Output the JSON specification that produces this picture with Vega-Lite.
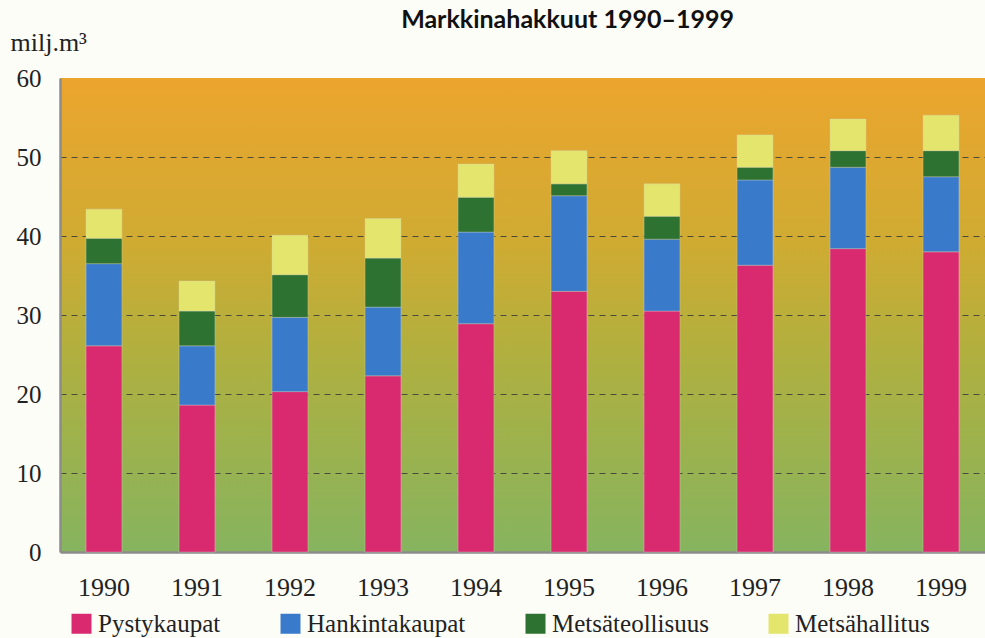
{
  "$schema": "https://vega.github.io/schema/vega-lite/v6.json",
  "autosize": {"type": "none"},
  "width": 925,
  "height": 474,
  "padding": {"left": 60, "top": 78, "right": 0, "bottom": 86},
  "background": "#fdfdf8",
  "title": {
    "text": "Markkinahakkuut 1990–1999",
    "font": "Lato",
    "fontWeight": "bold",
    "fontSize": 25,
    "color": "#111111",
    "anchor": "middle",
    "frame": "group",
    "dx": 45,
    "offset": 0,
    "dy": 4
  },
  "data": {
    "values": [
      {"year": "1990", "s": "Pystykaupat", "o": 1, "v": 26.1},
      {"year": "1990", "s": "Hankintakaupat", "o": 2, "v": 10.4},
      {"year": "1990", "s": "Metsäteollisuus", "o": 3, "v": 3.2},
      {"year": "1990", "s": "Metsähallitus", "o": 4, "v": 3.7},
      {"year": "1991", "s": "Pystykaupat", "o": 1, "v": 18.6},
      {"year": "1991", "s": "Hankintakaupat", "o": 2, "v": 7.5},
      {"year": "1991", "s": "Metsäteollisuus", "o": 3, "v": 4.4},
      {"year": "1991", "s": "Metsähallitus", "o": 4, "v": 3.8},
      {"year": "1992", "s": "Pystykaupat", "o": 1, "v": 20.3},
      {"year": "1992", "s": "Hankintakaupat", "o": 2, "v": 9.4},
      {"year": "1992", "s": "Metsäteollisuus", "o": 3, "v": 5.4},
      {"year": "1992", "s": "Metsähallitus", "o": 4, "v": 5.0},
      {"year": "1993", "s": "Pystykaupat", "o": 1, "v": 22.3},
      {"year": "1993", "s": "Hankintakaupat", "o": 2, "v": 8.7},
      {"year": "1993", "s": "Metsäteollisuus", "o": 3, "v": 6.2},
      {"year": "1993", "s": "Metsähallitus", "o": 4, "v": 5.0},
      {"year": "1994", "s": "Pystykaupat", "o": 1, "v": 28.9},
      {"year": "1994", "s": "Hankintakaupat", "o": 2, "v": 11.6},
      {"year": "1994", "s": "Metsäteollisuus", "o": 3, "v": 4.4},
      {"year": "1994", "s": "Metsähallitus", "o": 4, "v": 4.2},
      {"year": "1995", "s": "Pystykaupat", "o": 1, "v": 33.0},
      {"year": "1995", "s": "Hankintakaupat", "o": 2, "v": 12.1},
      {"year": "1995", "s": "Metsäteollisuus", "o": 3, "v": 1.5},
      {"year": "1995", "s": "Metsähallitus", "o": 4, "v": 4.2},
      {"year": "1996", "s": "Pystykaupat", "o": 1, "v": 30.5},
      {"year": "1996", "s": "Hankintakaupat", "o": 2, "v": 9.1},
      {"year": "1996", "s": "Metsäteollisuus", "o": 3, "v": 2.9},
      {"year": "1996", "s": "Metsähallitus", "o": 4, "v": 4.1},
      {"year": "1997", "s": "Pystykaupat", "o": 1, "v": 36.3},
      {"year": "1997", "s": "Hankintakaupat", "o": 2, "v": 10.8},
      {"year": "1997", "s": "Metsäteollisuus", "o": 3, "v": 1.6},
      {"year": "1997", "s": "Metsähallitus", "o": 4, "v": 4.1},
      {"year": "1998", "s": "Pystykaupat", "o": 1, "v": 38.4},
      {"year": "1998", "s": "Hankintakaupat", "o": 2, "v": 10.3},
      {"year": "1998", "s": "Metsäteollisuus", "o": 3, "v": 2.1},
      {"year": "1998", "s": "Metsähallitus", "o": 4, "v": 4.0},
      {"year": "1999", "s": "Pystykaupat", "o": 1, "v": 38.0},
      {"year": "1999", "s": "Hankintakaupat", "o": 2, "v": 9.5},
      {"year": "1999", "s": "Metsäteollisuus", "o": 3, "v": 3.3},
      {"year": "1999", "s": "Metsähallitus", "o": 4, "v": 4.5}
    ]
  },
  "mark": {"type": "bar", "stroke": "#d8d8c8", "strokeWidth": 0.6, "strokeOpacity": 0.6},
  "encoding": {
    "x": {
      "field": "year",
      "type": "nominal",
      "scale": {"paddingInner": 0.614, "paddingOuter": 0.28},
      "axis": {
        "title": null,
        "labelAngle": 0,
        "labelFont": "Liberation Serif",
        "labelFontSize": 26,
        "labelColor": "#222222",
        "labelPadding": 22,
        "ticks": false,
        "grid": false,
        "domainColor": "#8c8c8c",
        "domainWidth": 2.5
      }
    },
    "y": {
      "field": "v",
      "type": "quantitative",
      "stack": "zero",
      "scale": {"domain": [0, 60], "nice": false},
      "axis": {
        "title": "milj.m³",
        "titleAngle": 0,
        "titleAlign": "left",
        "titleBaseline": "alphabetic",
        "titleX": -50,
        "titleY": -28,
        "titleFont": "Liberation Serif",
        "titleFontSize": 26,
        "titleFontWeight": "normal",
        "titleColor": "#222222",
        "values": [0, 10, 20, 30, 40, 50, 60],
        "labelFont": "Liberation Serif",
        "labelFontSize": 25,
        "labelColor": "#222222",
        "labelPadding": 19,
        "ticks": false,
        "grid": true,
        "gridColor": "#4a4a3a",
        "gridDash": [6, 5],
        "gridWidth": 1.2,
        "gridOpacity": {"condition": {"test": "datum.value == 60 || datum.value == 0", "value": 0}, "value": 1},
        "domainColor": "#8c8c8c",
        "domainWidth": 2.5
      }
    },
    "color": {
      "field": "s",
      "type": "nominal",
      "sort": ["Pystykaupat", "Hankintakaupat", "Metsäteollisuus", "Metsähallitus"],
      "scale": {
        "domain": ["Pystykaupat", "Hankintakaupat", "Metsäteollisuus", "Metsähallitus"],
        "range": ["#d92a70", "#3a7acb", "#2d7230", "#e3e56c"]
      },
      "legend": {
        "title": null,
        "orient": "none",
        "direction": "horizontal",
        "legendX": 9,
        "legendY": 533,
        "symbolType": "square",
        "symbolSize": 400,
        "symbolStrokeWidth": 0,
        "symbolOpacity": 1,
        "labelFont": "Liberation Serif",
        "labelFontSize": 25,
        "labelColor": "#222222",
        "labelOffset": 4,
        "labelLimit": 300,
        "columnPadding": 57
      }
    },
    "order": {"field": "o", "type": "quantitative"}
  },
  "config": {
    "view": {
      "stroke": null,
      "fill": {
        "gradient": "linear",
        "x1": 0, "y1": 0, "x2": 0, "y2": 1,
        "stops": [
          {"offset": 0, "color": "#eca52e"},
          {"offset": 0.35, "color": "#cfab32"},
          {"offset": 0.6, "color": "#aeb040"},
          {"offset": 1, "color": "#86b45f"}
        ]
      }
    }
  }
}
